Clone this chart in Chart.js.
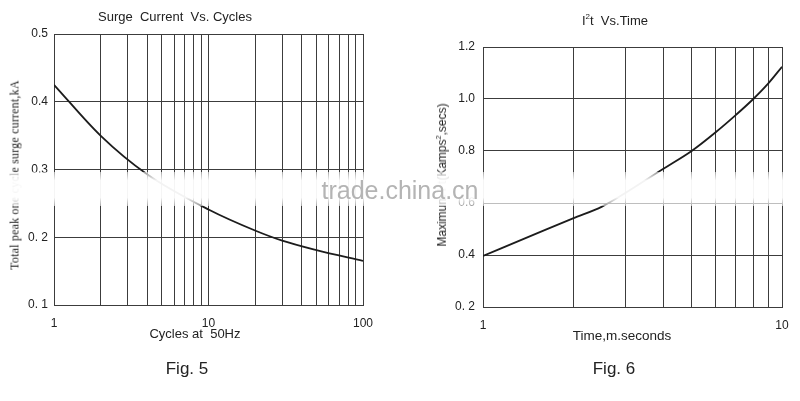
<!DOCTYPE html>
<html>
<head>
<meta charset="utf-8">
<script src="https://cdn.jsdelivr.net/npm/chart.js@4.4.1/dist/chart.umd.min.js"></script>
<style>
  body { margin: 0; background: #fff; }
  #wrap { position: relative; width: 800px; height: 401px; overflow: hidden; font-family: "Liberation Sans", Arial, sans-serif; color: #222; }
  canvas { position: absolute; top: 0; }
  .txt { position: absolute; transform: translate(-50%, -50%); white-space: nowrap; }
  .rot { position: absolute; transform: translate(-50%, -50%) rotate(-90deg); white-space: nowrap; }
  #band { position: absolute; left: 0; top: 172px; width: 800px; height: 34px;
    background: linear-gradient(to bottom, rgba(255,255,255,0.55), rgba(255,255,255,0.95) 25%, rgba(255,255,255,0.95) 75%, rgba(255,255,255,0.55)); }
</style>
</head>
<body>
<div id="wrap">
  <canvas id="surgeChart" width="400" height="401" style="left:0"></canvas>
  <canvas id="i2tChart" width="400" height="401" style="left:400px"></canvas>

  <div class="txt" style="left:175px; top:16px; font-size:13px;">Surge&nbsp; Current&nbsp; Vs. Cycles</div>
  <div class="rot" style="left:15px; top:175px; font-size:12px; letter-spacing:0.2px; font-family:'Liberation Serif', 'Times New Roman', serif;">Total peak one cycle surge current,kA</div>
  <div class="txt" style="left:195px; top:333px; font-size:13px;">Cycles at&nbsp; 50Hz</div>
  <div class="txt" style="left:187px; top:369px; font-size:17px;">Fig. 5</div>

  <div class="txt" style="left:615px; top:20px; font-size:13px;">I<sup style="font-size:8px">2</sup>t&nbsp; Vs.Time</div>
  <div class="rot" style="left:442px; top:175px; font-size:12px;">Maximum I<sup style="font-size:7px">2</sup>t(Kamps<sup style="font-size:7px">2</sup>,secs)</div>
  <div class="txt" style="left:622px; top:335px; font-size:13.5px;">Time,m.seconds</div>
  <div class="txt" style="left:614px; top:369px; font-size:17px;">Fig. 6</div>

  <div id="band"></div>
  <div class="txt" style="left:400px; top:190px; font-size:25px; color:#b4b4b4;">trade.china.cn</div>
</div>

<script>
// Fig. 5 - surge current vs cycles
const surgeCycles = [1, 2, 4, 10, 20, 30, 50, 100];
const surgeCurrent = [0.425, 0.35, 0.293, 0.241, 0.21, 0.195, 0.181, 0.165];
const surgeXTicks = [1, 2, 3, 4, 5, 6, 7, 8, 9, 10, 20, 30, 40, 50, 60, 70, 80, 90, 100];
const surgeXLabels = ['1', '10', '100'];
const surgeYTicks = [0.1, 0.2, 0.3, 0.4, 0.5];
const surgeYLabels = ['0. 1', '0. 2', '0.3', '0.4', '0.5'];

// Fig. 6 - I2t vs time
const i2tTime = [1, 1.5, 2, 2.5, 4, 5, 6, 7, 8, 9, 10];
const i2tValue = [0.396, 0.481, 0.541, 0.586, 0.731, 0.801, 0.872, 0.938, 0.999, 1.06, 1.124];
const i2tXTicks = [1, 2, 3, 4, 5, 6, 7, 8, 9, 10];
const i2tXLabels = ['1', '10'];
const i2tYTicks = [0.2, 0.4, 0.6, 0.8, 1.0, 1.2];
const i2tYLabels = ['0. 2', '0.4', '0.6', '0.8', '1.0', '1.2'];

const gridColor = '#3c3c3c';
const tickFont = { family: "'Liberation Sans', Arial, sans-serif", size: 12 };

function makeChart(id, xs, ys, xTicks, xLabels, yTicks, yLabels, area) {
  const ctx = document.getElementById(id).getContext('2d');
  return new Chart(ctx, {
    type: 'line',
    data: {
      datasets: [{
        data: xs.map((x, i) => ({ x: x, y: ys[i] })),
        borderColor: '#1c1c1c',
        borderWidth: 1.8,
        pointRadius: 0,
        fill: false,
        cubicInterpolationMode: 'monotone'
      }]
    },
    options: {
      responsive: false,
      animation: false,
      events: [],
      layout: {
        padding: { left: 0, right: 400 - area.right, top: area.top, bottom: 401 - area.bottom - 30 }
      },
      plugins: { legend: { display: false }, tooltip: { enabled: false } },
      scales: {
        x: {
          type: 'logarithmic',
          min: xTicks[0],
          max: xTicks[xTicks.length - 1],
          afterBuildTicks: (scale) => { scale.ticks = xTicks.map(v => ({ value: v })); },
          afterFit: (scale) => { scale.height = 30; },
          grid: { color: gridColor, lineWidth: 1, drawTicks: false },
          border: { color: gridColor, width: 1 },
          ticks: {
            autoSkip: false, maxRotation: 0, padding: area.xPad, color: '#222', font: tickFont,
            callback: (v) => xLabels.includes(String(v)) ? String(v) : ''
          }
        },
        y: {
          min: yTicks[0],
          max: yTicks[yTicks.length - 1],
          afterBuildTicks: (scale) => { scale.ticks = yTicks.map(v => ({ value: v })); },
          afterFit: (scale) => { scale.width = area.left; },
          grid: { color: gridColor, lineWidth: 1, drawTicks: false },
          border: { color: gridColor, width: 1 },
          ticks: {
            padding: area.yPad, color: '#222', font: tickFont,
            callback: (v, i) => yLabels[i]
          }
        }
      }
    }
  });
}

makeChart('surgeChart', surgeCycles, surgeCurrent, surgeXTicks, surgeXLabels, surgeYTicks, surgeYLabels,
  { left: 54, right: 363, top: 34, bottom: 305, xPad: 11, yPad: 6 });
makeChart('i2tChart', i2tTime, i2tValue, i2tXTicks, i2tXLabels, i2tYTicks, i2tYLabels,
  { left: 83, right: 382, top: 47, bottom: 307, xPad: 11, yPad: 8 });
</script>
</body>
</html>
